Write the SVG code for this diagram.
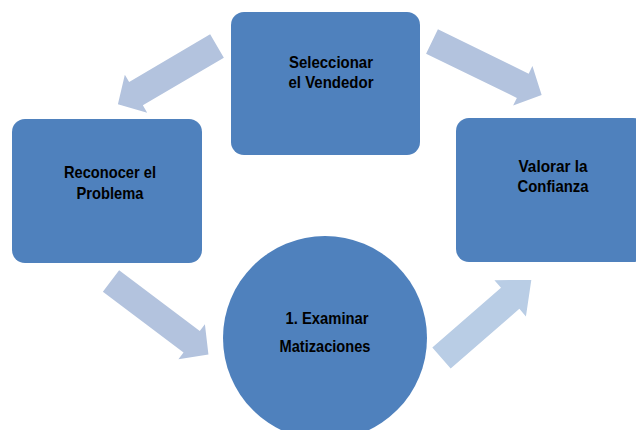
<svg xmlns="http://www.w3.org/2000/svg" width="636" height="430" viewBox="0 0 636 430">
  <style>
    .node { fill: #4F81BD; }
    .arrow { fill: #B3C3DE; }
    .arrow2 { fill: #B9CDE5; }
    .label { font-family: "Liberation Sans", Arial, sans-serif; font-size: 16.5px; font-weight: bold; fill: #000000; text-anchor: middle; }
  </style>
  <rect width="636" height="430" fill="#FFFFFF"/>
  <g id="connectors">
    <polygon class="arrow" transform="translate(217,46) rotate(149.5)" points="0,-13.5 94,-13.5 94,-22 115,0 94,22 94,13.5 0,13.5"/>
    <polygon class="arrow" transform="translate(432,41.5) rotate(26)" points="0,-13.5 101,-13.5 101,-22 122,0 101,22 101,13.5 0,13.5"/>
    <polygon class="arrow" transform="translate(111,281) rotate(37)" points="0,-13.5 101,-13.5 101,-22 122,0 101,22 101,13.5 0,13.5"/>
    <polygon class="arrow2" transform="translate(441.5,358) rotate(-41)" points="0,-14 91,-14 91,-24 119,0 91,24 91,14 0,14"/>
  </g>
  <g id="node-seleccionar">
    <rect class="node" x="231" y="12" width="189" height="143" rx="13" ry="13"/>
    <text class="label" x="331" y="68" textLength="84" lengthAdjust="spacingAndGlyphs">Seleccionar</text>
    <text class="label" x="331" y="88" textLength="85" lengthAdjust="spacingAndGlyphs">el Vendedor</text>
  </g>
  <g id="node-reconocer">
    <rect class="node" x="12" y="119" width="190" height="144" rx="13" ry="13"/>
    <text class="label" x="110" y="178" textLength="92" lengthAdjust="spacingAndGlyphs">Reconocer el</text>
    <text class="label" x="110" y="199" textLength="67" lengthAdjust="spacingAndGlyphs">Problema</text>
  </g>
  <g id="node-valorar">
    <rect class="node" x="456" y="118" width="190" height="144" rx="13" ry="13"/>
    <text class="label" x="553" y="172" textLength="69" lengthAdjust="spacingAndGlyphs">Valorar la</text>
    <text class="label" x="553" y="192" textLength="71" lengthAdjust="spacingAndGlyphs">Confianza</text>
  </g>
  <g id="node-examinar">
    <circle class="node" cx="325" cy="338" r="102"/>
    <text class="label" x="327" y="324" textLength="83" lengthAdjust="spacingAndGlyphs">1. Examinar</text>
    <text class="label" x="325" y="352" textLength="91" lengthAdjust="spacingAndGlyphs">Matizaciones</text>
  </g>
</svg>
